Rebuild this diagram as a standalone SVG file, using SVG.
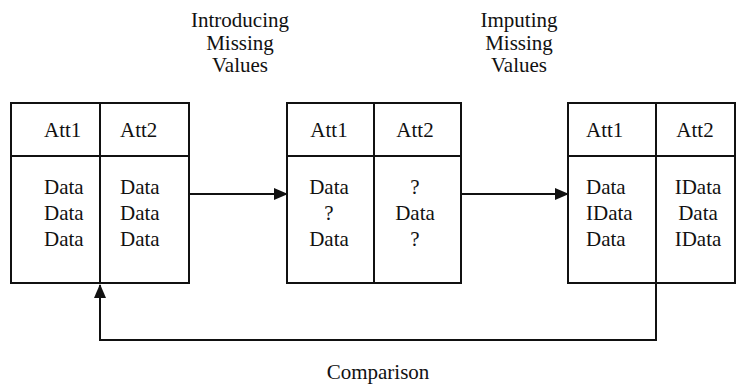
<svg xmlns="http://www.w3.org/2000/svg" width="736" height="384" viewBox="0 0 736 384">
<style>
text{font-family:"Liberation Serif","Times New Roman",serif;font-size:21px;fill:#111}
.m{text-anchor:middle}
.s{text-anchor:start}
.box{fill:#fff;stroke:#111;stroke-width:2}
.ln{fill:none;stroke:#111;stroke-width:2}
</style>
<defs>
<marker id="ah" markerUnits="userSpaceOnUse" markerWidth="14" markerHeight="12" refX="13" refY="6" orient="auto">
<path d="M0,0 L14,6 L0,12 z" fill="#111"/>
</marker>
</defs>
<rect width="736" height="384" fill="#fff"/>
<g id="label-introducing">
<text class="m" x="240" y="27">Introducing</text>
<text class="m" x="240" y="50">Missing</text>
<text class="m" x="240" y="72">Values</text>
</g>
<g id="label-imputing">
<text class="m" x="519" y="27">Imputing</text>
<text class="m" x="519" y="50">Missing</text>
<text class="m" x="519" y="72">Values</text>
</g>
<g id="table-original">
<rect class="box" x="11" y="103" width="178" height="180"/>
<line class="ln" x1="11" y1="156" x2="189" y2="156"/>
<line class="ln" x1="100" y1="103" x2="100" y2="283"/>
<text class="s" x="44" y="137">Att1</text>
<text class="s" x="120" y="137">Att2</text>
<text class="s" x="44" y="194">Data</text>
<text class="s" x="44" y="220">Data</text>
<text class="s" x="44" y="246">Data</text>
<text class="s" x="120" y="194">Data</text>
<text class="s" x="120" y="220">Data</text>
<text class="s" x="120" y="246">Data</text>
</g>
<g id="table-missing">
<rect class="box" x="287" y="103" width="174" height="180"/>
<line class="ln" x1="287" y1="156" x2="461" y2="156"/>
<line class="ln" x1="374" y1="103" x2="374" y2="283"/>
<text class="m" x="329" y="137">Att1</text>
<text class="m" x="415" y="137">Att2</text>
<text class="m" x="329" y="194">Data</text>
<text class="m" x="329" y="220">?</text>
<text class="m" x="329" y="246">Data</text>
<text class="m" x="415" y="194">?</text>
<text class="m" x="415" y="220">Data</text>
<text class="m" x="415" y="246">?</text>
</g>
<g id="table-imputed">
<rect class="box" x="568" y="103" width="167" height="180"/>
<line class="ln" x1="568" y1="156" x2="735" y2="156"/>
<line class="ln" x1="656" y1="103" x2="656" y2="283"/>
<text class="s" x="586" y="137">Att1</text>
<text class="m" x="695" y="137">Att2</text>
<text class="s" x="586" y="194">Data</text>
<text class="s" x="586" y="220">IData</text>
<text class="s" x="586" y="246">Data</text>
<text class="m" x="698" y="194">IData</text>
<text class="m" x="698" y="220">Data</text>
<text class="m" x="698" y="246">IData</text>
</g>
<g id="connectors">
<line class="ln" x1="189" y1="194" x2="287" y2="194" marker-end="url(#ah)"/>
<line class="ln" x1="461" y1="194" x2="568" y2="194" marker-end="url(#ah)"/>
<path class="ln" d="M656,283 V340 H100 V285" marker-end="url(#ah)"/>
</g>
<g id="label-comparison">
<text class="m" x="378" y="379">Comparison</text>
</g>
</svg>
